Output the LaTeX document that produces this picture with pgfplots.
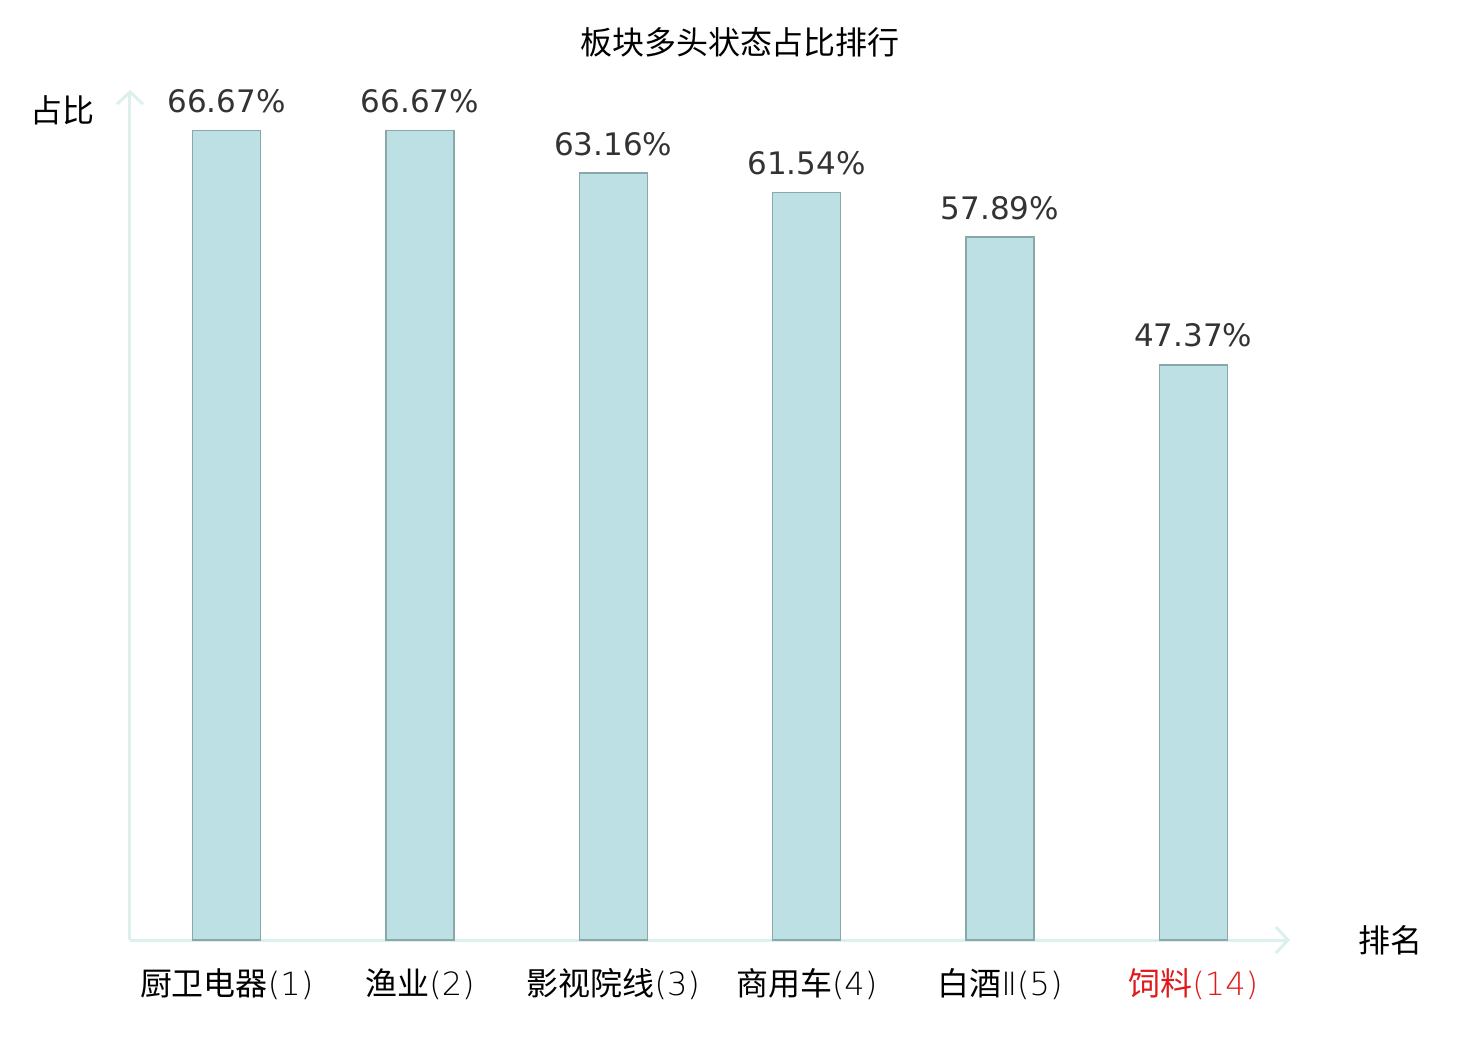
\documentclass[border=0pt]{standalone}
\usepackage{fontspec}
\setmainfont{DejaVu Sans}
\newfontfamily\cjk{Noto Sans CJK SC}
\newfontfamily\lite{DejaVu Sans ExtraLight}
\usepackage{pgfplots}
\pgfplotsset{compat=1.18}
\usetikzlibrary{arrows.meta}
\definecolor{barfill}{HTML}{BCE0E3}
\definecolor{baredge}{HTML}{8AA7A9}
\definecolor{axcol}{HTML}{DCF0EE}
\definecolor{valcol}{HTML}{333333}
\definecolor{redlab}{HTML}{E01A1A}
\begin{document}
\begin{tikzpicture}
\begin{axis}[
  at={(0,0)}, anchor=south west,
  width=580pt, height=425pt, scale only axis,
  ybar, bar width=34pt,
  xmin=-0.5, xmax=5.5, ymin=0, ymax=70,
  axis lines=left,
  axis line style={draw=axcol, line width=1.5pt, -{Straight Barb[length=6pt,width=13pt,line width=1.5pt]}},
  ytick=\empty,
  xtick={0,1,2,3,4,5},
  xticklabels={{\cjk 厨卫电器}(1),{\cjk 渔业}(2),{\cjk 影视院线}(3),{\cjk 商用车}(4),{\cjk 白酒}Ⅱ(5),{\color{redlab}{\cjk 饲料}(14)}},
  major tick length=0pt,
  xticklabel style={font=\lite\fontsize{16}{19}\selectfont, anchor=base, yshift=-27.5pt},
  /pgf/number format/assume math mode=true,
  nodes near coords={\pgfmathprintnumber[fixed,precision=2,fixed zerofill]{\pgfplotspointmeta}\%},
  every node near coord/.append style={font=\fontsize{15.5}{18}\selectfont, text=valcol, anchor=base, yshift=9pt},
  clip=false,
]
\addplot[fill=barfill, draw=baredge, line width=0.75pt] coordinates {
  (0,66.67) (1,66.67) (2,63.16) (3,61.54) (4,57.89) (5,47.37)
};
\end{axis}
\node[font=\cjk\fontsize{16}{19}\selectfont] at (305pt,449pt) {板块多头状态占比排行};
\node[font=\cjk\fontsize{16}{19}\selectfont] at (-33.5pt,415pt) {占比};
\node[font=\cjk\fontsize{16}{19}\selectfont] at (630pt,0pt) {排名};
\pgfresetboundingbox
\path (-65pt,-50pt) rectangle (675pt,470pt);
\end{tikzpicture}
\end{document}
